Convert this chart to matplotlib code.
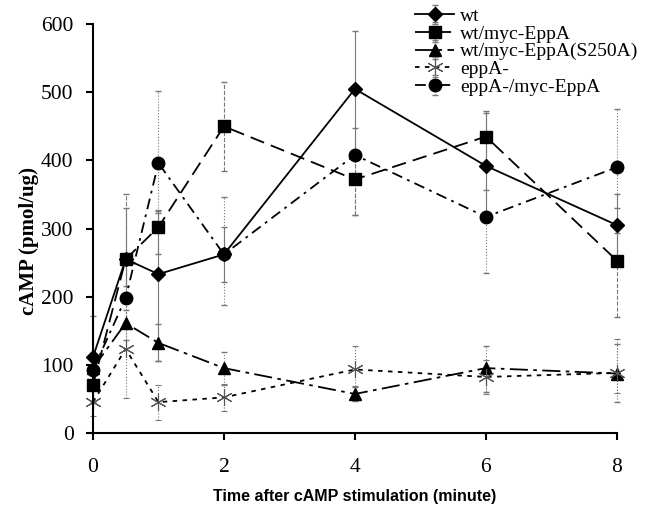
import matplotlib.pyplot as plt

# data
time = [0, 0.5, 1, 2, 4, 6, 8]
labels = ["wt", "wt/myc-EppA", "wt/myc-EppA(S250A)", "eppA-", "eppA-/myc-EppA"]

wt = [111, 255, 233, 262, 505, 392, 305]
wt_lo = [20, 40, 127, 40, 95, 80, 60]
wt_hi = [60, 75, 90, 40, 85, 80, 45]

myc = [70, 255, 302, 450, 372, 435, 253]
myc_lo = [25, 60, 40, 65, 52, 40, 83]
myc_hi = [30, 95, 25, 65, 40, 35, 40]

s250a = [95, 161, 132, 95, 57, 95, 87]
s250a_lo = [20, 25, 26, 25, 10, 35, 42]
s250a_hi = [20, 20, 28, 23, 10, 33, 43]

eppa = [45, 123, 45, 52, 93, 82, 88]
eppa_lo = [20, 72, 26, 20, 25, 25, 30]
eppa_hi = [25, 77, 25, 20, 35, 25, 50]

eppa_myc = [92, 198, 396, 262, 408, 317, 390]
eppa_myc_lo = [20, 40, 70, 75, 88, 82, 60]
eppa_myc_hi = [20, 50, 106, 85, 40, 40, 85]

fig = plt.figure(figsize=(6.5, 5.05), dpi=100)
ax = fig.add_axes([0.143, 0.143, 0.806, 0.809])

serif = "Liberation Serif"

series = [
    (wt, wt_lo, wt_hi, "D", "-", "solid", 7),
    (myc, myc_lo, myc_hi, "s", (0, (8, 4)), "dashed", 9),
    (s250a, s250a_lo, s250a_hi, "^", (0, (10, 3, 2, 3)), "dotted", 9),
    (eppa, eppa_lo, eppa_hi, (6, 2, 0), (0, (2.5, 3)), "dotted", 12),
    (eppa_myc, eppa_myc_lo, eppa_myc_hi, "o", (0, (6, 3, 1.5, 3)), "dotted", 9),
]

for (y, lo, hi, mk, ls, els, ms), lab in zip(series, labels):
    star = mk == (6, 2, 0)
    eb = ax.errorbar(time, y, yerr=[lo, hi], color="black", marker=mk, ms=ms,
                     linestyle=ls, lw=1.3, ecolor="#777777", elinewidth=0.8,
                     capsize=2, capthick=0.8, label=lab,
                     markeredgewidth=0.8 if star else 1.0,
                     markeredgecolor="#555555" if star else "black")
    eb[2][0].set_linestyle(els)

ax.set_xlim(0, 8)
ax.set_ylim(0, 600)
ax.set_xticks([0, 2, 4, 6, 8])
ax.set_yticks(range(0, 601, 100))
for s in ["top", "right"]:
    ax.spines[s].set_visible(False)
ax.spines["left"].set_linewidth(1.5)
ax.spines["bottom"].set_linewidth(1.5)
ax.tick_params(direction="out", width=1.5, length=5, labelsize=15.5)
ax.tick_params(axis="y", pad=9)
ax.tick_params(axis="x", pad=13)
for t in ax.get_xticklabels() + ax.get_yticklabels():
    t.set_family(serif)
for a in ax.get_children():
    try:
        a.set_clip_on(False)
    except Exception:
        pass

ax.set_ylabel("cAMP (pmol/ug)", family=serif, fontweight="bold", fontsize=15)
ax.yaxis.set_label_coords(-0.103, 0.47)
ax.set_xlabel("Time after cAMP stimulation (minute)", family="Liberation Sans",
              fontweight="bold", fontsize=11.5, labelpad=9)

handles, labs = ax.get_legend_handles_labels()
leg = ax.legend(handles, labs, loc="upper left", bbox_to_anchor=(0.6, 1.06),
                frameon=False, prop={"family": serif, "size": 14},
                handlelength=2.0, handletextpad=0.3, labelspacing=0.0,
                borderaxespad=0)

fig.savefig("out.png", dpi=100)
